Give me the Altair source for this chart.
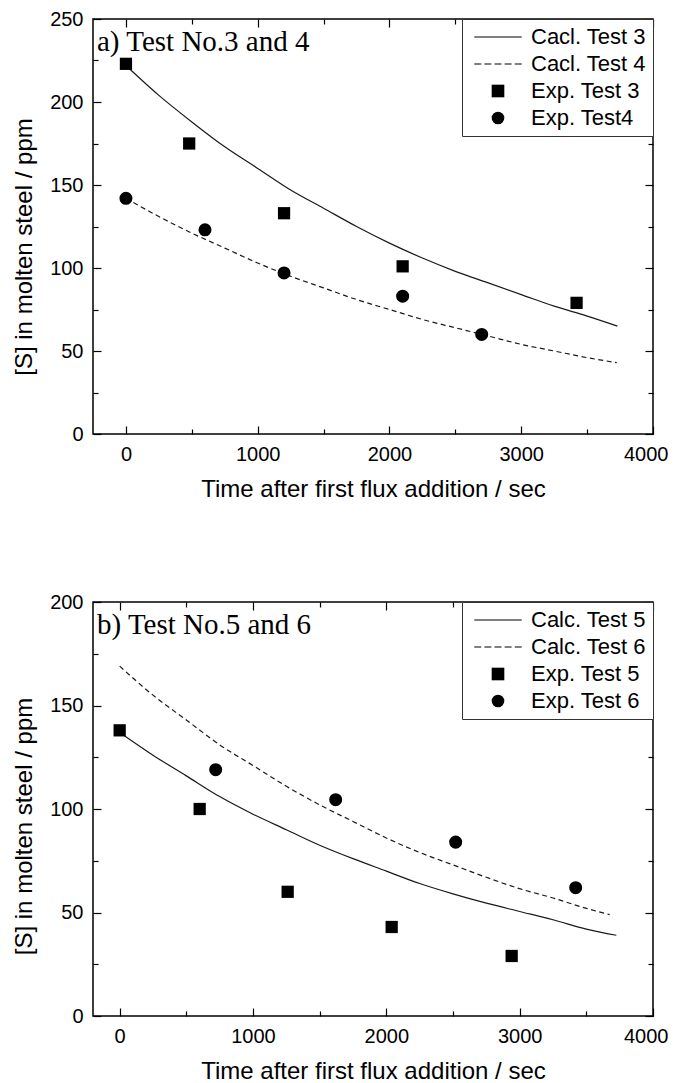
import altair as alt
import pandas as pd

# ---------------- Panel a) Test No.3 and 4 ----------------
a_calc3_time = [0, 250, 500, 750, 1000, 1250, 1500, 1750, 2000, 2250, 2500, 2750, 3000, 3250, 3500, 3730]
a_calc3_s = [222, 204, 188, 173, 160, 147, 136, 125, 115, 106, 98, 91, 84, 77, 71, 65]
a_calc4_time = [0, 250, 500, 750, 1000, 1250, 1500, 1750, 2000, 2250, 2500, 2750, 3000, 3250, 3500, 3725]
a_calc4_s = [142, 131, 121, 112, 103, 95, 88, 81, 75, 69, 64, 59, 54, 50, 46, 43]
a_exp3_time = [0, 480, 1200, 2100, 3420]
a_exp3_s = [223, 175, 133, 101, 79]
a_exp4_time = [0, 600, 1200, 2100, 2700]
a_exp4_s = [142, 123, 97, 83, 60]
a_names = ["Cacl. Test 3", "Cacl. Test 4", "Exp. Test 3", "Exp. Test4"]

# ---------------- Panel b) Test No.5 and 6 ----------------
b_calc5_time = [0, 250, 500, 750, 1000, 1250, 1500, 1750, 2000, 2250, 2500, 2750, 3000, 3250, 3500, 3725]
b_calc5_s = [137, 126, 116, 106, 97.5, 90, 82.5, 76, 70, 64, 59, 54.5, 50.5, 46.5, 42, 39]
b_calc6_time = [0, 250, 500, 750, 1000, 1250, 1500, 1750, 2000, 2250, 2500, 2750, 3000, 3250, 3500, 3675]
b_calc6_s = [169, 155, 143, 131, 121, 111, 102, 94, 86, 79, 73, 67, 61.5, 57, 52, 49]
b_exp5_time = [0, 600, 1260, 2040, 2940]
b_exp5_s = [138, 100, 60, 43, 29]
b_exp6_time = [720, 1620, 2520, 3420]
b_exp6_s = [119, 104.5, 84, 62]
b_names = ["Calc. Test 5", "Calc. Test 6", "Exp. Test 5", "Exp. Test 6"]

x_major = [0, 1000, 2000, 3000, 4000]
x_minor = [500, 1500, 2500, 3500]
a_y_major = [0, 50, 100, 150, 200, 250]
a_y_minor = [25, 75, 125, 175, 225]
b_y_major = [0, 50, 100, 150, 200]
b_y_minor = [25, 75, 125, 175]

x_title = "Time after first flux addition / sec"
a_y_title = "[S] in molten steel  / ppm"
b_y_title = "[S] in molten steel / ppm"

# legend glyphs (thin filled bars so they show without a stroke)
SOLID_PATH = "M-3.75,-0.09H3.75V0.09H-3.75Z"
DASH_PATH = ("M-3.75,-0.09H-2.65V0.09H-3.75Z"
             "M-2.15,-0.09H-1.05V0.09H-2.15Z"
             "M-0.55,-0.09H0.55V0.09H-0.55Z"
             "M1.05,-0.09H2.15V0.09H1.05Z"
             "M2.65,-0.09H3.75V0.09H2.65Z")

MAJ, MIN = 8, 5


def ax(orient, values, size, labels, **kw):
    opts = dict(orient=orient, values=values, tickSize=size, offset=-size,
                domain=False, grid=False, labels=labels, ticks=True, format="d")
    opts.update(kw)
    if "labelFlush" not in opts:
        opts["labelFlush"] = False
    return alt.Axis(**opts)


def panel(calc1, calc2, exp1, exp2, names, x_dom, y_dom, y_major, y_minor,
          y_title, label, h, title_shift):
    xs = alt.Scale(domain=x_dom, nice=False, zero=False)
    ys = alt.Scale(domain=y_dom, nice=False, zero=False)
    shp = alt.Scale(domain=names, range=[SOLID_PATH, DASH_PATH, "square", "circle"])
    leg = alt.Legend(title=None, orient="top-right", offset=0, padding=7,
                     strokeColor="#333333", fillColor="white",
                     symbolSize=160, symbolStrokeWidth=0,
                     symbolFillColor="black",
                     symbolOffset=18, labelOffset=22,
                     labelFont="Liberation Sans", labelFontSize=22,
                     labelColor="black", rowPadding=5, labelLimit=400)

    d1 = pd.DataFrame({"t": calc1[0], "s": calc1[1], "series": names[0]})
    d2 = pd.DataFrame({"t": calc2[0], "s": calc2[1], "series": names[1]})
    d3 = pd.DataFrame({"t": exp1[0], "s": exp1[1], "series": names[2]})
    d4 = pd.DataFrame({"t": exp2[0], "s": exp2[1], "series": names[3]})

    solid = alt.Chart(d1).mark_line(color="#1a1a1a", strokeWidth=1.2, interpolate="monotone").encode(
        x=alt.X("t:Q", scale=xs, title=x_title,
                axis=ax("bottom", x_major, MAJ, True, labelFlush=True, labelFlushOffset=15)),
        y=alt.Y("s:Q", scale=ys, title=y_title,
                axis=ax("left", y_major, MAJ, True, titleY=h / 2 + title_shift)),
    )
    dash = alt.Chart(d2).mark_line(color="#1a1a1a", strokeWidth=1.2, strokeDash=[5, 3.5],
                                   interpolate="monotone").encode(
        x=alt.X("t:Q", scale=xs, title=None, axis=ax("bottom", x_minor, MIN, False)),
        y=alt.Y("s:Q", scale=ys, title=None, axis=ax("left", y_minor, MIN, False)),
    )
    sq = alt.Chart(d3).mark_point(filled=True, fill="black", opacity=1, size=150).encode(
        x=alt.X("t:Q", scale=xs, title=None, axis=ax("top", x_major, MAJ, False)),
        y=alt.Y("s:Q", scale=ys, title=None, axis=ax("right", y_major, MAJ, False)),
        shape=alt.Shape("series:N", scale=shp, legend=leg),
    )
    ci = alt.Chart(d4).mark_point(filled=True, fill="black", opacity=1, size=170).encode(
        x=alt.X("t:Q", scale=xs, title=None, axis=ax("top", x_minor, MIN, False)),
        y=alt.Y("s:Q", scale=ys, title=None, axis=ax("right", y_minor, MIN, False)),
        shape=alt.Shape("series:N", scale=shp, legend=leg),
    )
    txt = alt.Chart(pd.DataFrame({"label": [label]})).mark_text(
        font="Liberation Serif", fontSize=29, align="left", baseline="alphabetic", color="black"
    ).encode(x=alt.value(4), y=alt.value(32), text="label:N")

    return alt.layer(solid, dash, sq, ci, txt).resolve_axis(
        x="independent", y="independent"
    ).properties(width=560, height=h)


top = panel((a_calc3_time, a_calc3_s), (a_calc4_time, a_calc4_s),
            (a_exp3_time, a_exp3_s), (a_exp4_time, a_exp4_s), a_names,
            [-250, 4000], [0, 250], a_y_major, a_y_minor, a_y_title,
            "a) Test No.3 and 4", 415, 20)
bottom = panel((b_calc5_time, b_calc5_s), (b_calc6_time, b_calc6_s),
               (b_exp5_time, b_exp5_s), (b_exp6_time, b_exp6_s), b_names,
               [-200, 4000], [0, 200], b_y_major, b_y_minor, b_y_title,
               "b) Test No.5 and 6", 414, 17)

chart = alt.vconcat(top, bottom, spacing=168, bounds="flush").resolve_scale(
    shape="independent"
).resolve_legend(shape="independent").properties(
    padding={"left": 3, "top": 0, "right": 0, "bottom": 0}
).configure_view(stroke="black", strokeWidth=1.5).configure_axis(
    labelFont="Liberation Sans", labelFontSize=20, labelColor="black",
    titleFont="Liberation Sans", titleFontSize=24, titleFontWeight="normal",
    titleColor="black", tickColor="black", tickWidth=1.2,
    labelPadding=10, titlePadding=13,
)

chart.save("out.html", embed_options={"renderer": "svg", "actions": False})
